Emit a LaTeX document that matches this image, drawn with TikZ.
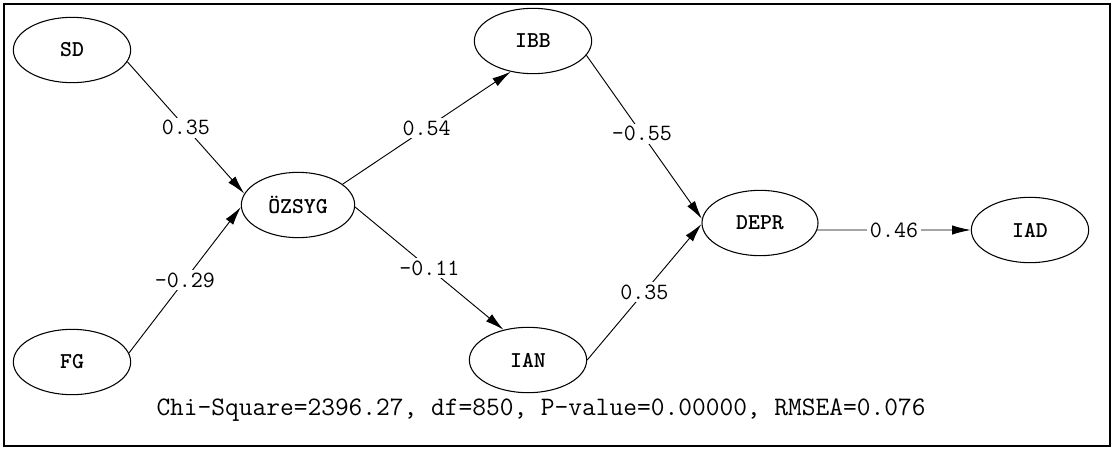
\documentclass[tikz,border=0pt]{standalone}
\usepackage{fontspec}
\usetikzlibrary{shapes.geometric,arrows.meta}
\tikzset{
  latent/.style={draw, ellipse, line width=0.8pt, inner sep=0pt,
    minimum width=88pt, minimum height=49pt,
    font=\ttfamily\bfseries\fontsize{17}{19}\selectfont},
  path/.style={line width=0.7pt, -{Latex[length=14pt,width=7pt]}},
  coef/.style={fill=white, inner sep=2pt, font=\ttfamily\fontsize{17.5}{19}\selectfont}
}
\begin{document}
\begin{tikzpicture}[x=0.75pt,y=-0.75pt]
\useasboundingbox (0,0) rectangle (1117,450);
\draw[line width=1.5pt] (4,4) rectangle (1110,446);
\node[latent] (SD) at (72,50) {SD};
\node[latent] (FG) at (72,362) {FG};
\node[latent, minimum width=85pt] (OZ) at (298,205) {ÖZSYG};
\node[latent] (IBB) at (533,41) {IBB};
\node[latent] (IAN) at (528,360) {IAN};
\node[latent, minimum width=87pt] (DEPR) at (760,223) {DEPR};
\node[latent] (IAD) at (1030,230) {IAD};
\draw[path] (SD.-12) -- node[coef, pos=0.5] {0.35} (OZ.168);
\draw[path] (FG.9) -- node[coef, pos=0.5] {-0.29} (OZ.182);
\draw[path] (OZ.25) -- node[coef, pos=0.5] {0.54} (IBB.234);
\draw[path] (OZ.-2) -- node[coef, pos=0.5] {-0.11} (IAN.129);
\draw[path] (IBB.-15) -- node[coef, pos=0.48] {-0.55} (DEPR.176);
\draw[path] (IAN.0) -- node[coef, pos=0.5] {0.35} (DEPR.181);
\draw[path] (DEPR.-7) -- node[coef, pos=0.5] {0.46} (IAD.180);
\node[font=\ttfamily\fontsize{20}{22}\selectfont, inner sep=0pt] (fit) at (541,410) {Chi-Square=2396.27, df=850, P-value=0.00000, RMSEA=0.076};
\end{tikzpicture}
\end{document}
